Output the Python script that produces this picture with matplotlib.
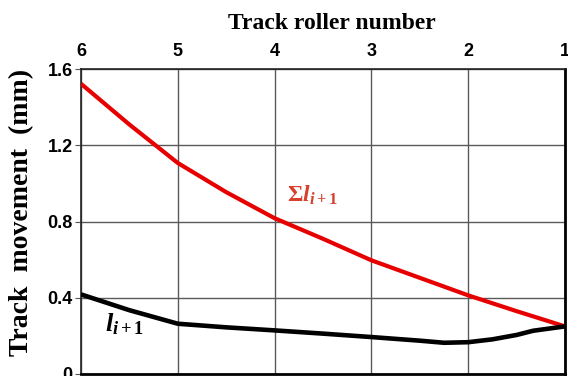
import matplotlib
matplotlib.use('Agg')
import matplotlib.pyplot as plt

# ---- data ----
roller_sum = [6, 5.5, 5, 4.5, 4, 3.5, 3, 2.5, 2, 1.5, 1]
sum_l = [1.524, 1.31, 1.108, 0.955, 0.818, 0.71, 0.597, 0.505, 0.413, 0.33, 0.25]

roller_l = [6, 5.5, 5, 4.5, 4, 3.5, 3, 2.5, 2.25, 2, 1.75, 1.5, 1.33, 1]
l_vals = [0.418, 0.335, 0.264, 0.245, 0.229, 0.212, 0.194, 0.175, 0.164, 0.167, 0.182, 0.205, 0.227, 0.25]

x_ticks = [6, 5, 4, 3, 2, 1]
y_ticks = [0, 0.4, 0.8, 1.2, 1.6]
y_ticklabels = ['0', '0.4', '0.8', '1.2', '1.6']

plt.rcParams['mathtext.fontset'] = 'custom'
plt.rcParams['mathtext.it'] = 'Liberation Serif:italic:bold'
plt.rcParams['mathtext.rm'] = 'Liberation Serif:bold'
plt.rcParams['mathtext.bf'] = 'Liberation Serif:bold'

W, H = 568, 376
fig = plt.figure(figsize=(W / 100, H / 100), dpi=100)
ax = fig.add_axes([81 / W, 2 / H, (565 - 81) / W, (374 - 69.3) / H])

ax.plot(roller_sum, sum_l, color='#e60000', lw=3.0, solid_capstyle='butt',
        solid_joinstyle='round', zorder=3)
ax.plot(roller_l, l_vals, color='black', lw=3.3, solid_capstyle='butt',
        solid_joinstyle='round', zorder=3)

ax.set_xlim(6, 1)
ax.set_ylim(0, 1.6)

ax.xaxis.tick_top()
ax.set_xticks(x_ticks)
ax.set_xticklabels([str(v) for v in x_ticks], fontfamily='Liberation Sans',
                   fontweight='bold', fontsize=13)
ax.set_yticks(y_ticks)
ax.set_yticklabels(y_ticklabels, fontfamily='Liberation Sans',
                   fontweight='bold', fontsize=13)
ax.tick_params(axis='x', length=0, pad=7)
ax.tick_params(axis='y', length=4, width=0.8, color='#555555', pad=2)

ax.grid(True, color='#5a5a5a', lw=1.0, zorder=1)

for side in ['left', 'top']:
    ax.spines[side].set_linewidth(1.2)
    ax.spines[side].set_color('#222222')
for side in ['right', 'bottom']:
    ax.spines[side].set_linewidth(2.0)
    ax.spines[side].set_color('black')

ax.text(3.87, 0.905, r'$\Sigma l_{i+1}$', color='#d6402c', fontsize=17,
        va='baseline', ha='left', zorder=4)
ax.text(5.75, 0.225, r'$l_{i+1}$', color='black', fontsize=19,
        va='baseline', ha='left', zorder=4)

fig.text(332 / W, (H - 29) / H, 'Track roller number', fontfamily='Liberation Serif',
         fontweight='bold', fontsize=17, ha='center', va='baseline')
fig.text(22 / W, (H - 212) / H, 'Track  movement  (mm)', fontfamily='Liberation Serif',
         fontweight='bold', fontsize=20, ha='center', va='center', rotation=90)

fig.savefig('out.png', dpi=100)
